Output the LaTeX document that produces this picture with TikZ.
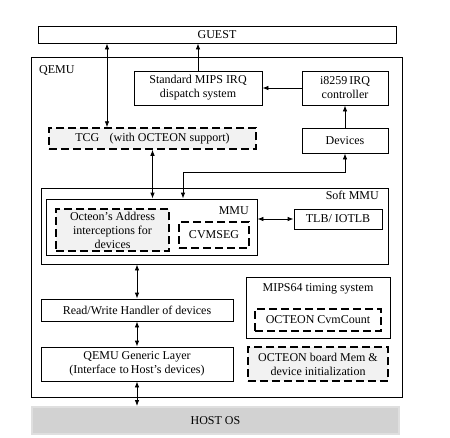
\documentclass[tikz,border=0pt]{standalone}
\usepackage{fontspec}
\setmainfont{Liberation Serif}
\usepackage{tikz}
\usetikzlibrary{positioning}
\usetikzlibrary{arrows.meta}
\usetikzlibrary{calc}

\begin{document}
\begin{tikzpicture}[x=1pt,y=-1pt,
  font=\fontsize{12}{14}\selectfont,
  >={Latex[length=6pt,width=4.5pt]},
  box/.style={draw,line width=0.8pt,inner sep=0pt,align=center},
  dbox/.style={draw,line width=1.5pt,dash pattern=on 8pt off 4pt,inner sep=0pt,align=center},
  shade/.style={fill=gray!10},
  link/.style={line width=0.8pt}]
  \useasboundingbox (0,0) rectangle (450,437);
  % outer frames
  \node [box,minimum width=358,minimum height=17] (GUEST) at (217,34.5) {GUEST};
  \node [box,minimum width=371,minimum height=340] (QEMU) at (216.5,227) {};
  \node [anchor=west,inner sep=0pt] (QEMUlabel) at (39,70) {QEMU};
  \node [box,draw=gray!25,line width=2pt,fill=gray!35,minimum width=367,minimum height=27] (HOST) at (215.5,420.5) {HOST OS};
  % interrupt path
  \node [box,minimum width=128,minimum height=34] (StdIRQ) at (198,88) {Standard MIPS IRQ\\dispatch system};
  \node [box,minimum width=86,minimum height=34] (i8259) at (345,88) {i8259\,IRQ\\controller};
  \node [box,minimum width=86,minimum height=25] (Devices) at (345,140.5) {Devices};
  \node [dbox,shade,minimum width=207,minimum height=21] (TCG) at (152.5,138.5) {TCG\hspace{0.6em} (with OCTEON support)};
  % memory management
  \node [box,minimum width=347,minimum height=76] (SoftMMU) at (214.5,226) {};
  \node [anchor=east,inner sep=0pt] (SoftMMUlabel) at (379,195) {Soft MMU};
  \node [box,minimum width=211,minimum height=56] (MMU) at (151.5,227) {};
  \node [anchor=east,inner sep=0pt] (MMUlabel) at (249,211) {MMU};
  \node [dbox,shade,minimum width=113,minimum height=42] (Octeon) at (112.5,230) {Octeon's Address\\interceptions for\\devices};
  \node [dbox,fill=white,minimum width=70,minimum height=26] (CVMSEG) at (214,235) {CVMSEG};
  \node [box,minimum width=88,minimum height=20] (TLB) at (338,219) {TLB/ IOTLB};
  % host side
  \node [box,minimum width=192,minimum height=22] (RW) at (137,310) {Read/Write Handler of devices};
  \node [box,minimum width=192,minimum height=34] (Generic) at (137,364) {QEMU Generic Layer\\(Interface\hspace{0.3em}to\,Host's devices)};
  \node [box,minimum width=144,minimum height=61] (Timing) at (318,307.5) {};
  \node [inner sep=0pt] (Timinglabel) at (318,289) {MIPS64 timing system};
  \node [dbox,fill=white,minimum width=126,minimum height=22] (CvmCount) at (318,320) {OCTEON CvmCount};
  \node [dbox,shade,minimum width=140,minimum height=34] (BoardMem) at (318,364) {OCTEON board Mem \&\\device initialization};
  % connectors
  \coordinate (tcgup) at (107,0);
  \coordinate (devbend) at (183,172);
  \draw [link,<->] (GUEST.south -| tcgup) -- (TCG.north -| tcgup);
  \draw [link,->] (StdIRQ.north) -- (StdIRQ.north |- GUEST.south);
  \draw [link,->] (i8259.west) -- (StdIRQ.east);
  \draw [link,->] (Devices.north) -- (i8259.south);
  \draw [link,<->] (TCG.south) -- (TCG.south |- MMU.north);
  \draw [link,<->] (Devices.south) |- (devbend) -- (devbend |- MMU.north);
  \draw [link,<->] (MMU.east |- TLB.west) -- (TLB.west);
  \draw [link,<->] (RW.north |- SoftMMU.south) -- (RW.north);
  \draw [link,<->] (RW.south) -- (Generic.north);
  \draw [link,<->] (Generic.south) -- (Generic.south |- HOST.north);
\end{tikzpicture}
\end{document}
